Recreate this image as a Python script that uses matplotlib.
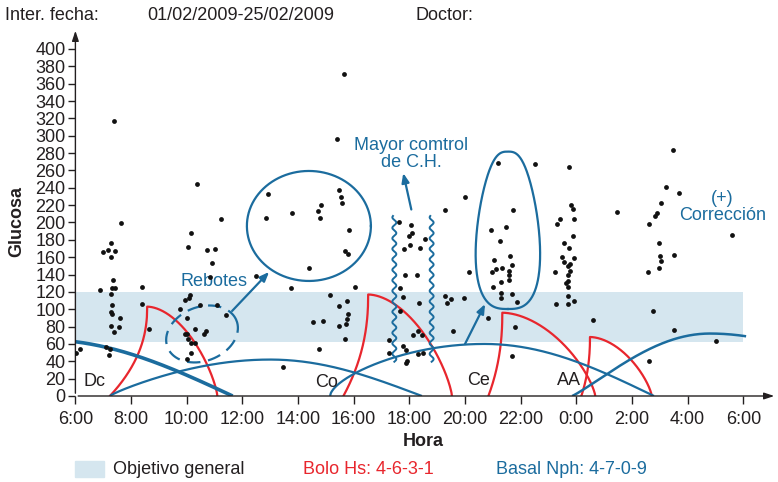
import numpy as np
import matplotlib.pyplot as plt

plt.rcParams['font.family'] = ['Liberation Sans', 'DejaVu Sans']

BLUE = '#1b6c9e'
RED = '#e8262d'
BAND = '#d5e6ef'
INK = '#231f20'

# glucose readings (hour of day, 24+ = after midnight) and value (mg/dl)
hora = [6.02, 6.17, 6.90, 7.00, 7.09, 7.18, 7.22, 7.25, 7.27, 7.28, 7.28, 7.29, 7.29,
        7.30, 7.30, 7.32, 7.35, 7.39, 7.39, 7.43, 7.43, 7.56, 7.60, 7.64, 8.40, 8.40, 8.65,
        9.77, 9.94, 9.94, 10.00, 10.02, 10.02, 10.03, 10.03, 10.08, 10.12, 10.14, 10.15,
        10.16, 10.29, 10.31, 10.37, 10.47, 10.62, 10.68, 10.74, 10.85, 10.92, 11.00, 11.09,
        11.23, 11.42,
        12.50, 12.84, 12.92, 13.46, 13.76, 13.79, 14.39, 14.53, 14.72, 14.76, 14.78, 14.81,
        14.89, 15.16, 15.40, 15.46, 15.46, 15.48, 15.55, 15.59, 15.64, 15.68, 15.70, 15.73,
        15.75, 15.75, 15.81, 15.81, 15.84, 16.06,
        17.27, 17.28, 17.63, 17.66, 17.68, 17.76, 17.76, 17.80, 17.84, 17.88, 17.88, 17.93,
        17.99, 18.02, 18.05, 18.08, 18.13, 18.27, 18.31, 18.32, 18.34, 18.38, 18.47, 18.50,
        18.56, 19.28, 19.29, 19.36, 19.51, 19.56, 19.97, 20.00, 20.15,
        20.82, 20.92, 20.97, 21.02, 21.03, 21.11, 21.20, 21.27, 21.29, 21.29, 21.30, 21.34,
        21.48, 21.58, 21.58, 21.58, 21.63, 21.69, 21.70, 21.70, 21.74, 21.78, 21.88, 22.50,
        23.23, 23.26, 23.30, 23.40, 23.50, 23.55, 23.57, 23.63, 23.70, 23.70, 23.70, 23.71,
        23.71, 23.71, 23.73, 23.73, 23.76, 23.76, 23.81, 23.88, 23.89, 23.90, 23.92, 23.93,
        24.61,
        25.47, 26.57, 26.61, 26.61, 26.75, 26.82, 26.89, 26.98, 26.98, 26.99, 27.03, 27.04,
        27.23, 27.48, 27.51, 27.51, 27.68, 29.01, 29.59]
glucosa = [50, 54, 122, 166, 56, 168, 47, 54, 97, 176, 160, 118, 81,
           105, 95, 125, 134, 317, 74, 124, 167, 79, 90, 199, 126, 106, 77,
           100, 111, 72, 72, 90, 43, 172, 66, 113, 116, 49, 61,
           188, 77, 61, 244, 105, 71, 75, 168, 137, 153, 169, 105,
           204, 93,
           138, 205, 233, 33, 124, 211, 147, 85, 213, 54, 205, 220,
           87, 117, 296, 104, 81, 237, 229, 223, 371, 66, 167, 83,
           109, 89, 164, 94, 191, 126,
           65, 49, 201, 98, 124, 114, 58, 170, 140, 53, 38, 40,
           184, 174, 197, 188, 70, 140, 75, 48, 107, 171, 70, 50,
           181, 214, 115, 107, 112, 75, 113, 229, 143,
           90, 191, 143, 126, 157, 146, 269, 179, 119, 113, 131, 148,
           195, 144, 140, 134, 161, 118, 151, 46, 214, 79, 108, 268,
           143, 106, 198, 204, 160, 154, 176, 130, 150, 132, 106, 140,
           126, 115, 264, 171, 152, 144, 220, 185, 216, 110, 204, 159,
           88,
           212, 143, 198, 40, 98, 207, 211, 176, 148, 161, 156, 222,
           241, 284, 162, 76, 234, 63, 186]

objetivo = [62, 120]

# Bolo Hs profiles: start, peak hour, peak height, end
bolo_inicio = [7.24, 15.63, 20.84, 24.18]
bolo_pico_h = [8.58, 16.52, 21.34, 24.49]
bolo_pico = [103, 117, 96, 68]
bolo_fin = [11.10, 19.53, 24.68, 26.71]

# Basal Nph profiles: start, peak hour, peak height, end
nph_inicio = [0.0, 7.24, 15.15, 23.85]
nph_pico_h = [4.8, 13.0, 20.7, 28.8]
nph_pico = [65, 42, 60, 72]
nph_fin = [11.65, 18.45, 26.79, 35.65]
nph_forma = [1.0, 0.85, 0.6, 1.1]
nph_grosor = [2.6, 1.6, 1.6, 1.8]

x_ticks = list(range(6, 31, 2))
x_labels = ['6:00', '8:00', '10:00', '12:00', '14:00', '16:00', '18:00', '20:00',
            '22:00', '0:00', '2:00', '4:00', '6:00']
y_ticks = list(range(0, 401, 20))

W, H = 778, 482
fig = plt.figure(figsize=(W / 100, H / 100), dpi=100)
ax = fig.add_axes([75.4 / W, 86 / H, 701.6 / W, 368 / H])
X0, X1, Y0, Y1 = 6, 31.21, 0, 424.2
ax.set_xlim(X0, X1)
ax.set_ylim(Y0, Y1)
sx = 701.6 / (X1 - X0)   # px per hour
sy = 368 / (Y1 - Y0)     # px per mg/dl

for s in ax.spines.values():
    s.set_visible(False)
ax.annotate('', xy=(0, 1), xytext=(0, 0), xycoords='axes fraction',
            arrowprops=dict(arrowstyle='-|>,head_length=0.6,head_width=0.2', lw=1, color=INK))
ax.annotate('', xy=(1, 0), xytext=(0, 0), xycoords='axes fraction',
            arrowprops=dict(arrowstyle='-|>,head_length=0.6,head_width=0.2', lw=1, color=INK))

ax.set_xticks(x_ticks)
ax.set_xticklabels(x_labels)
ax.set_yticks(y_ticks)
ax.tick_params(axis='both', labelsize=13, colors=INK, width=1)
ax.tick_params(axis='x', length=6, pad=5)
ax.tick_params(axis='y', length=5, pad=2)

# target band
ax.fill_between([6, 30], objetivo[0], objetivo[1], color=BAND, lw=0, zorder=0)

# bolus curves
for t0, tp, p, te in zip(bolo_inicio, bolo_pico_h, bolo_pico, bolo_fin):
    s = np.linspace(0, 1, 120)
    tr = t0 + s * (tp - t0)
    yr = p * (1 - (1 - s) ** 0.45)
    u = np.linspace(0, 1, 200)
    tf = tp + u * (te - tp)
    yf = p * np.clip(1 - u ** 1.8, 0, 1) ** 0.75
    ax.plot(np.r_[tr, tf], np.r_[yr, yf], color=RED, lw=1.6, zorder=2)

# basal curves
for t0, tp, p, te, k, lw in zip(nph_inicio, nph_pico_h, nph_pico, nph_fin, nph_forma, nph_grosor):
    t = np.linspace(max(t0, 6), min(te, 30.1), 400)
    up = np.sin(np.pi / 2 * np.clip((t - t0) / (tp - t0), 0, 1)) ** k
    down = np.cos(np.pi / 2 * np.clip((t - tp) / (te - tp), 0, 1))
    y = p * np.where(t < tp, up, down)
    ax.plot(t, y, color=BLUE, lw=lw, zorder=2, solid_capstyle='butt')

ax.scatter(hora, glucosa, s=12, color='#111111', lw=0, zorder=4)


def px_shape(ch, cg, dx, dy):
    return ch + np.asarray(dx) / sx, cg + np.asarray(dy) / sy


phi = np.linspace(0, 2 * np.pi, 300)

# dashed ellipse "Rebotes"
th = np.radians(21)
ex = 37 * np.cos(phi) * np.cos(th) - 27 * np.sin(phi) * np.sin(th)
ey = 37 * np.cos(phi) * np.sin(th) + 27 * np.sin(phi) * np.cos(th)
hx, hy = px_shape(10.55, 71.5, ex, ey)
ax.plot(hx, hy, color=BLUE, lw=1.6, dashes=(6, 3.5), zorder=3)

# big circle
hx, hy = px_shape(14.39, 196, 62 * np.cos(phi), 55 * np.sin(phi))
ax.plot(hx, hy, color=BLUE, lw=1.6, zorder=3)

# tall egg around dinner readings
sn = np.sin(phi)
egg_x = 31 * np.sign(sn) * np.abs(sn) ** 0.7 * (1 + 0.25 * np.cos(phi))
hx, hy = px_shape(21.54, 191, egg_x, -78.7 * np.cos(phi))
ax.plot(hx, hy, color=BLUE, lw=1.6, zorder=3)

# wavy lines
g = np.linspace(39.5, 207.5, 400)
for h in [17.46, 18.80]:
    ax.plot(h + 2.0 * np.sin(2 * np.pi * (g - 39.5) * sy / 10.5) / sx, g,
            color=BLUE, lw=1.4, zorder=3)

arrow = dict(arrowstyle='-|>,head_length=0.55,head_width=0.22', lw=1.6, color=BLUE,
             shrinkA=0, shrinkB=0)
ax.annotate('', xy=(12.96, 143), xytext=(11.63, 98), arrowprops=arrow, zorder=3)
ax.annotate('', xy=(17.78, 257), xytext=(18.07, 215), arrowprops=arrow, zorder=3)
ax.annotate('', xy=(20.72, 106), xytext=(20.0, 60), arrowprops=arrow, zorder=3)

ax.text(10.97, 132, 'Rebotes', color=BLUE, fontsize=13, ha='center', va='center')
ax.text(18.07, 279, 'Mayor comtrol\nde C.H.', color=BLUE, fontsize=13, ha='center',
        va='center', linespacing=1.0)
ax.text(29.24, 218, '(+)\nCorrección', color=BLUE, fontsize=13, ha='center',
        va='center', linespacing=1.0)

for lab, h, gl in [('Dc', 6.69, 16.5), ('Co', 15.04, 15.6), ('Ce', 20.48, 17.6), ('AA', 23.72, 17.3)]:
    ax.text(h, gl, lab, color=INK, fontsize=13, ha='center', va='center')

fig.text(5 / W, 1 - 15 / H, 'Inter. fecha:', fontsize=13, color=INK, va='center')
fig.text(147 / W, 1 - 15 / H, '01/02/2009-25/02/2009', fontsize=13, color=INK, va='center')
fig.text(416 / W, 1 - 15 / H, 'Doctor:', fontsize=13, color=INK, va='center')

fig.text(17 / W, 1 - 222 / H, 'Glucosa', fontsize=13, fontweight='bold', color=INK,
         rotation=90, ha='center', va='center')
fig.text(423 / W, 1 - 441 / H, 'Hora', fontsize=13, fontweight='bold', color=INK,
         ha='center', va='center')

# legend row
fig.patches.append(plt.Rectangle((75 / W, 1 - 477 / H), 29 / W, 16 / H, color=BAND,
                                 transform=fig.transFigure, figure=fig))
fig.text(113 / W, 1 - 469 / H, 'Objetivo general', fontsize=13, color=INK, va='center')
fig.text(303 / W, 1 - 469 / H, 'Bolo Hs: 4-6-3-1', fontsize=13, color=RED, va='center')
fig.text(496 / W, 1 - 469 / H, 'Basal Nph: 4-7-0-9', fontsize=13, color=BLUE, va='center')

fig.savefig('out.png', dpi=100)
